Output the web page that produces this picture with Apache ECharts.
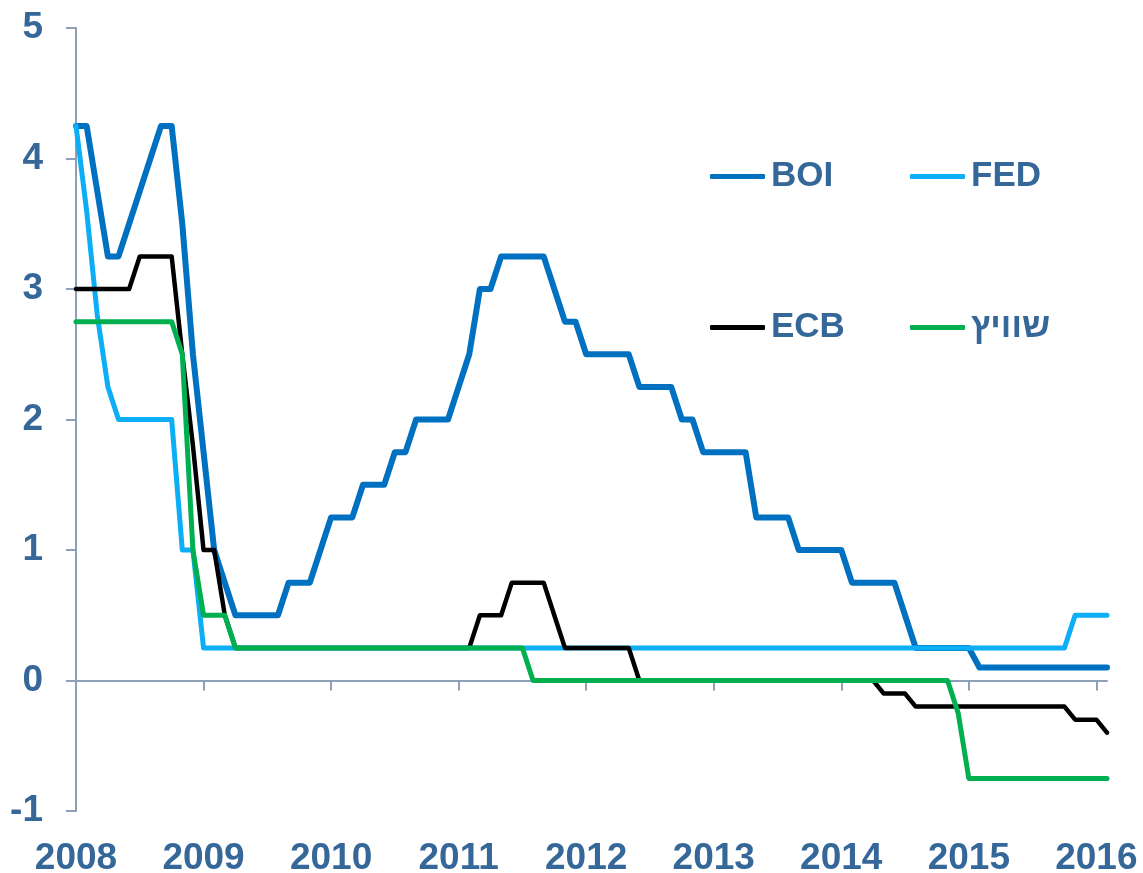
<!DOCTYPE html>
<html>
<head>
<meta charset="utf-8">
<script src="https://cdn.jsdelivr.net/npm/echarts@6/dist/echarts.min.js"></script>
<style>
  html, body { margin: 0; padding: 0; background: #fff; }
  #chart { width: 1143px; height: 873px; }
</style>
</head>
<body>
<div id="chart"></div>
<script>
// year tick labels, monthly categories Jan 2008 .. Feb 2016
var years = ['2008', '2009', '2010', '2011', '2012', '2013', '2014', '2015', '2016'];
var lastYearMonths = 2;

// monthly policy rates (%)
var boi = [
  4.25, 4.25, 3.75, 3.25, 3.25, 3.5, 3.75, 4.0, 4.25, 4.25, 3.5, 2.5,
  1.75, 1.0, 0.75, 0.5, 0.5, 0.5, 0.5, 0.5, 0.75, 0.75, 0.75, 1.0,
  1.25, 1.25, 1.25, 1.5, 1.5, 1.5, 1.75, 1.75, 2.0, 2.0, 2.0, 2.0,
  2.25, 2.5, 3.0, 3.0, 3.25, 3.25, 3.25, 3.25, 3.25, 3.0, 2.75, 2.75,
  2.5, 2.5, 2.5, 2.5, 2.5, 2.25, 2.25, 2.25, 2.25, 2.0, 2.0, 1.75,
  1.75, 1.75, 1.75, 1.75, 1.25, 1.25, 1.25, 1.25, 1.0, 1.0, 1.0, 1.0,
  1.0, 0.75, 0.75, 0.75, 0.75, 0.75, 0.5, 0.25, 0.25, 0.25, 0.25, 0.25,
  0.25, 0.1, 0.1, 0.1, 0.1, 0.1, 0.1, 0.1, 0.1, 0.1, 0.1, 0.1,
  0.1, 0.1
];
var fed = [
  4.25, 3.6, 2.8, 2.25, 2.0, 2.0, 2.0, 2.0, 2.0, 2.0, 1.0, 1.0,
  0.25, 0.25, 0.25, 0.25, 0.25, 0.25, 0.25, 0.25, 0.25, 0.25, 0.25, 0.25,
  0.25, 0.25, 0.25, 0.25, 0.25, 0.25, 0.25, 0.25, 0.25, 0.25, 0.25, 0.25,
  0.25, 0.25, 0.25, 0.25, 0.25, 0.25, 0.25, 0.25, 0.25, 0.25, 0.25, 0.25,
  0.25, 0.25, 0.25, 0.25, 0.25, 0.25, 0.25, 0.25, 0.25, 0.25, 0.25, 0.25,
  0.25, 0.25, 0.25, 0.25, 0.25, 0.25, 0.25, 0.25, 0.25, 0.25, 0.25, 0.25,
  0.25, 0.25, 0.25, 0.25, 0.25, 0.25, 0.25, 0.25, 0.25, 0.25, 0.25, 0.25,
  0.25, 0.25, 0.25, 0.25, 0.25, 0.25, 0.25, 0.25, 0.25, 0.25, 0.5, 0.5,
  0.5, 0.5
];
var ecb = [
  3.0, 3.0, 3.0, 3.0, 3.0, 3.0, 3.25, 3.25, 3.25, 3.25, 2.5, 1.8,
  1.0, 1.0, 0.5, 0.25, 0.25, 0.25, 0.25, 0.25, 0.25, 0.25, 0.25, 0.25,
  0.25, 0.25, 0.25, 0.25, 0.25, 0.25, 0.25, 0.25, 0.25, 0.25, 0.25, 0.25,
  0.25, 0.25, 0.5, 0.5, 0.5, 0.75, 0.75, 0.75, 0.75, 0.5, 0.25, 0.25,
  0.25, 0.25, 0.25, 0.25, 0.25, 0, 0, 0, 0, 0, 0, 0,
  0, 0, 0, 0, 0, 0, 0, 0, 0, 0, 0, 0,
  0, 0, 0, 0, -0.1, -0.1, -0.1, -0.2, -0.2, -0.2, -0.2, -0.2,
  -0.2, -0.2, -0.2, -0.2, -0.2, -0.2, -0.2, -0.2, -0.2, -0.2, -0.3, -0.3,
  -0.3, -0.4
];
var swiss = [
  2.75, 2.75, 2.75, 2.75, 2.75, 2.75, 2.75, 2.75, 2.75, 2.75, 2.5, 1.0,
  0.5, 0.5, 0.5, 0.25, 0.25, 0.25, 0.25, 0.25, 0.25, 0.25, 0.25, 0.25,
  0.25, 0.25, 0.25, 0.25, 0.25, 0.25, 0.25, 0.25, 0.25, 0.25, 0.25, 0.25,
  0.25, 0.25, 0.25, 0.25, 0.25, 0.25, 0.25, 0, 0, 0, 0, 0,
  0, 0, 0, 0, 0, 0, 0, 0, 0, 0, 0, 0,
  0, 0, 0, 0, 0, 0, 0, 0, 0, 0, 0, 0,
  0, 0, 0, 0, 0, 0, 0, 0, 0, 0, 0, -0.25,
  -0.75, -0.75, -0.75, -0.75, -0.75, -0.75, -0.75, -0.75, -0.75, -0.75, -0.75, -0.75,
  -0.75, -0.75
];

var months = [];
years.forEach(function(y, i) {
  var n = i === years.length - 1 ? lastYearMonths : 12;
  for (var m = 1; m <= n; m++) months.push(y + '-' + (m < 10 ? '0' + m : m));
});

var font = "'Liberation Sans', Arial, sans-serif";
var labelColor = '#356799';
var axisColor = '#8E9FBA';

function legendItem(name, left, top) {
  return {
    data: [name], left: left, top: top, padding: 0,
    icon: 'roundRect', itemWidth: 55, itemHeight: 5, itemGap: 0,
    textStyle: { color: labelColor, fontSize: 35, fontWeight: 'bold', fontFamily: font, padding: [0, 0, 0, 1] }
  };
}

var chart = echarts.init(document.getElementById('chart'), null, { renderer: 'canvas' });
chart.setOption({
  animation: false,
  backgroundColor: '#fff',
  legend: [
    legendItem('BOI', 710, 159),
    legendItem('FED', 910, 159),
    legendItem('ECB', 710, 310),
    legendItem('שוויץ', 910, 310)
  ],
  grid: { left: 76, right: 36, top: 28, bottom: 62, containLabel: false, outerBoundsMode: 'none' },
  xAxis: [{
    type: 'category',
    data: months,
    boundaryGap: false,
    axisLine: { onZero: true, lineStyle: { color: axisColor, width: 2 } },
    axisTick: { interval: 11, length: 10, lineStyle: { color: axisColor, width: 2 } },
    axisLabel: { show: false },
    splitLine: { show: false }
  }, {
    type: 'category',
    data: months,
    boundaryGap: false,
    position: 'bottom',
    axisLine: { show: false, onZero: false },
    axisTick: { show: false },
    axisLabel: {
      interval: 11, margin: 29,
      color: labelColor, fontSize: 37, fontWeight: 'bold', fontFamily: font,
      formatter: function(v) { return v.slice(0, 4); }
    },
    splitLine: { show: false }
  }],
  yAxis: {
    type: 'value',
    min: -1, max: 5, interval: 1,
    axisLine: { show: true, lineStyle: { color: axisColor, width: 2 } },
    axisTick: { show: true, length: 10, lineStyle: { color: axisColor, width: 2 } },
    axisLabel: { margin: 33, color: labelColor, fontSize: 37, fontWeight: 'bold', fontFamily: font },
    splitLine: { show: false }
  },
  series: [
    { name: 'BOI', type: 'line', data: boi, symbol: 'none', color: '#0070C0',
      lineStyle: { width: 6, join: 'round', cap: 'round' } },
    { name: 'FED', type: 'line', data: fed, symbol: 'none', color: '#0CAFF5',
      lineStyle: { width: 5, join: 'round', cap: 'round' } },
    { name: 'ECB', type: 'line', data: ecb, symbol: 'none', color: '#000000',
      lineStyle: { width: 4.5, join: 'round', cap: 'round' } },
    { name: 'שוויץ', type: 'line', data: swiss, symbol: 'none', color: '#00B050',
      lineStyle: { width: 5, join: 'round', cap: 'round' } }
  ]
});
</script>
</body>
</html>
